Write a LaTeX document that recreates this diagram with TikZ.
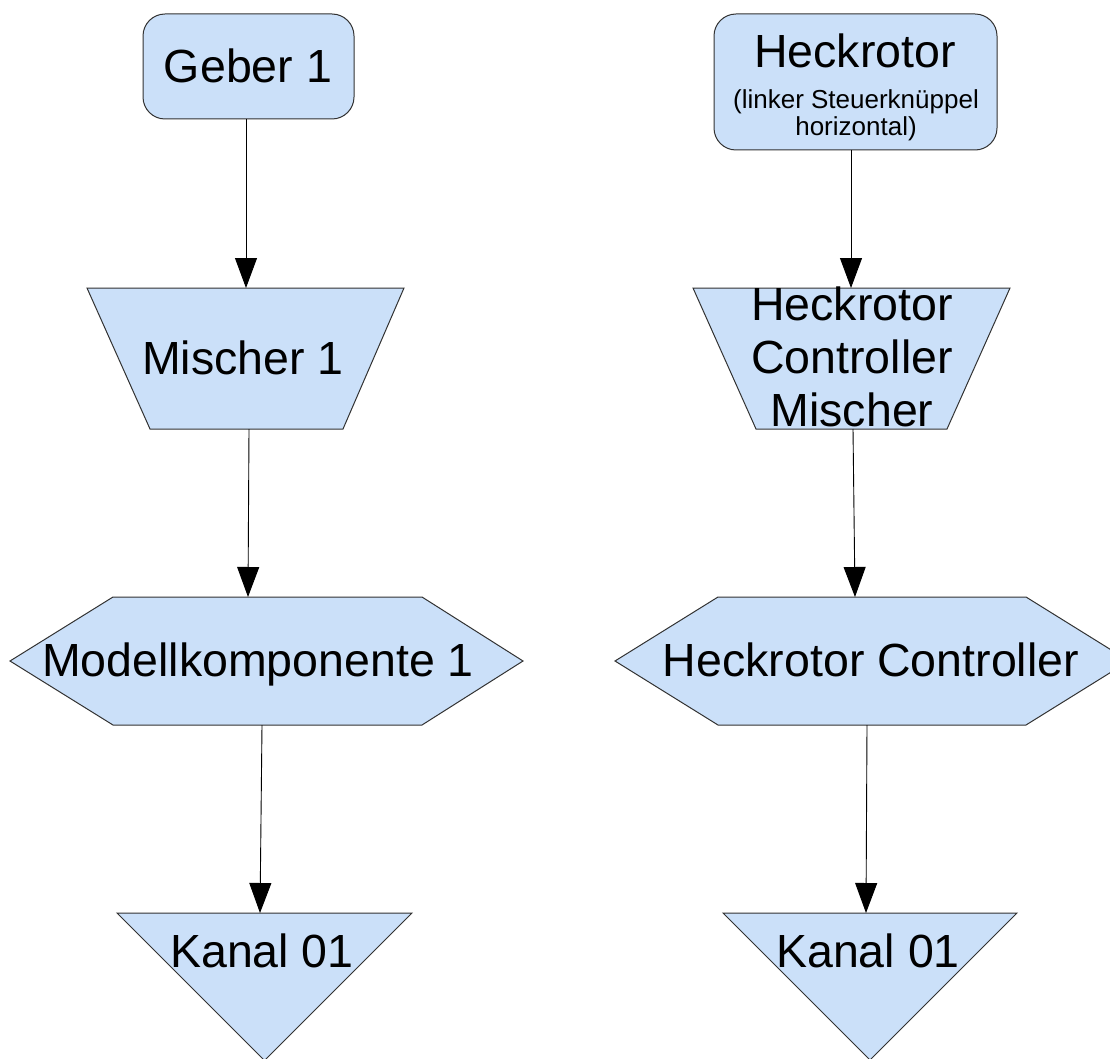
\documentclass[tikz,border=0pt]{standalone}
\usepackage{fontspec}
\setmainfont{Liberation Sans}
\usetikzlibrary{arrows.meta}
\definecolor{skyfill}{RGB}{203,224,249}
\definecolor{edgegray}{RGB}{50,50,50}
\begin{document}
\begin{tikzpicture}[x=1pt,y=-1pt,
  shapebox/.style={draw=edgegray, line width=1pt, fill=skyfill, line join=miter},
  flow/.style={draw=black, line width=0.9pt, -{Triangle[length=30pt,width=22pt]}},
  bigtext/.style={font=\fontsize{46.5}{53}\selectfont, inner sep=0pt, align=center},
  smalltext/.style={font=\fontsize{26}{27}\selectfont, inner sep=0pt, align=center}]
\useasboundingbox (0,0) rectangle (1110,1059);
\clip (0,0) rectangle (1110,1059);

% ---------- left chain: shapes ----------
\path[shapebox, rounded corners=22pt] (143,14) rectangle (354,119);
\path[shapebox] (87,288) -- (404,288) -- (343,429) -- (150,429) -- cycle;
\path[shapebox] (10,661) -- (113,597) -- (422,597) -- (523,661) -- (422,725) -- (113,725) -- cycle;
\path[shapebox] (117,913) -- (412,913) -- (264.5,1060.5) -- cycle;

% ---------- right chain: shapes ----------
\path[shapebox, rounded corners=22pt] (714,14) rectangle (997,150);
\path[shapebox] (693,288) -- (1010,288) -- (947,429) -- (756,429) -- cycle;
\path[shapebox] (615,661) -- (718,597) -- (1026,597) -- (1129,661) -- (1026,725) -- (718,725) -- cycle;
\path[shapebox] (723,913) -- (1017,913) -- (870,1060) -- cycle;

% ---------- labels ----------
\node[bigtext] (geber) at (248,66) {Geber 1};
\node[bigtext] (mischer) at (243,358) {Mischer 1};
\node[bigtext] (modell) at (258,664) {Modellkomponente 1};
\node[bigtext] (kanalL) at (262,951) {Kanal 01};

\node[bigtext] (heck) at (855,51) {Heckrotor};
\node[smalltext] (heckSub) at (856,115) {(linker Steuerknüppel\\horizontal)};
\node[bigtext] (hcMischer) at (852,357) {Heckrotor\\Controller\\Mischer};
\node[bigtext] (hc) at (871,660) {Heckrotor Controller};
\node[bigtext] (kanalR) at (868,951) {Kanal 01};

% ---------- connector end points on the shape outlines ----------
\coordinate (gOut) at (246,119);
\coordinate (mIn) at (246,288);
\coordinate (mOut) at (249,429);
\coordinate (mkIn) at (248,597);
\coordinate (mkOut) at (262,725);
\coordinate (kLIn) at (260,913);

\coordinate (hOut) at (851,150);
\coordinate (hmIn) at (851,288);
\coordinate (hmOut) at (853,429);
\coordinate (hcIn) at (855,597);
\coordinate (hcOut) at (867,725);
\coordinate (kRIn) at (866,913);

% ---------- connectors ----------
\draw[flow] (gOut) -- (mIn);
\draw[flow] (mOut) -- (mkIn);
\draw[flow] (mkOut) -- (kLIn);

\draw[flow] (hOut) -- (hmIn);
\draw[flow] (hmOut) -- (hcIn);
\draw[flow] (hcOut) -- (kRIn);
\end{tikzpicture}
\end{document}
